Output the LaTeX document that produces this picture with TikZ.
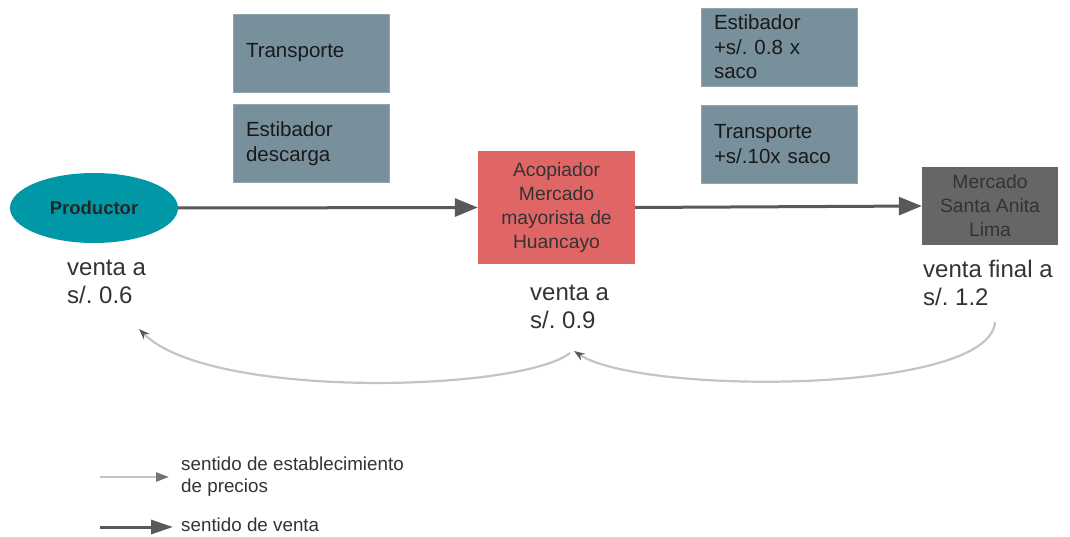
\documentclass[tikz,border=0pt]{standalone}
\usepackage{fontspec}
\setmainfont{Liberation Sans}
\usetikzlibrary{arrows.meta,shapes.geometric}
\definecolor{teal1}{HTML}{0097A7}
\definecolor{redbox}{HTML}{E06666}
\definecolor{darkbox}{HTML}{666666}
\definecolor{graybox}{HTML}{78909C}
\definecolor{saleline}{HTML}{595959}
\definecolor{priceline}{HTML}{C4C4C4}
\definecolor{txt}{HTML}{333333}
\begin{document}
\frenchspacing
\begin{tikzpicture}[x=1pt,y=-1pt,
  costbox/.style={fill=graybox, draw=graybox!80!white, line width=0.6pt, minimum width=156pt, minimum height=78pt,
     text width=130pt, inner xsep=13pt, align=left, text=black!90, font=\fontsize{20.5}{24.5}\selectfont},
  mainbox/.style={draw=none, align=center, font=\fontsize{19.3}{24}\selectfont},
  pricelbl/.style={anchor=north west, align=left, text=txt, inner sep=0pt, font=\fontsize{24}{28}\selectfont},
  sale/.style={draw=saleline, line width=3pt, -{Triangle[length=23pt,width=18pt]}},
  price/.style={draw=priceline, line width=2.2pt, -{Stealth[length=11pt,width=8pt,color=saleline]}},
  legtxt/.style={anchor=west, align=left, text=txt, inner sep=0pt, font=\fontsize{18.8}{22}\selectfont}
]
\useasboundingbox (0,0) rectangle (1070,537);

% main nodes
\node[ellipse, fill=teal1, minimum width=168pt, minimum height=70pt, inner sep=0pt,
      font=\fontsize{18.5}{20}\selectfont\bfseries, text=black!85] (prod) at (94,208) {Productor};
\node[mainbox, fill=redbox, minimum width=157pt, minimum height=113pt, text=black!80] (acop) at (556.5,207.5)
  {Acopiador\\Mercado\\mayorista de\\Huancayo};
\node[mainbox, fill=darkbox, minimum width=136pt, minimum height=78pt, text=txt] (lima) at (990,206)
  {Mercado\\Santa Anita\\Lima};

% cost boxes
\node[costbox] (tr1) at (311,53) {Transporte};
\node[costbox] (es1) at (311,143.5) {Estibador\\descarga};
\node[costbox] (es2) at (779,47) {Estibador\\+s/. 0.8 x\\saco};
\node[costbox] (tr2) at (779,144) {Transporte\\+s/.10x saco};

% sale arrows
\draw[sale] (prod.east) -- (acop.west);
\draw[sale] (acop.east) -- (lima.west);

% price labels
\node[pricelbl] (p1) at (67,260) {venta a\\s/. 0.6};
\node[pricelbl] (p2) at (530,285) {venta a\\s/. 0.9};
\node[pricelbl] (p3) at (923,260) {venta final a\\s/. 1.2};

% price-setting curves
\coordinate (cR) at (995,322);
\coordinate (cM) at (574,351);
\coordinate (cM2) at (570,353);
\coordinate (cL) at (139,329);
\draw[price] (cR) .. controls (990,395) and (640,395) .. (cM);
\draw[price] (cM2) .. controls (520,392) and (210,400) .. (cL);

% legend
\coordinate (l1a) at (100,477);
\coordinate (l1b) at (169,477);
\coordinate (l2a) at (100,527);
\coordinate (l2b) at (173,527);
\draw[draw=priceline, line width=2.2pt, -{Triangle[length=13pt,width=9pt,color=black!55]}] (l1a) -- (l1b);
\draw[draw=saleline, line width=3pt, -{Triangle[length=22pt,width=14pt]}] (l2a) -- (l2b);
\node[legtxt] (lg1) at (181,477) {sentido de establecimiento\\de precios};
\node[legtxt] (lg2) at (181,525) {sentido de venta};
\end{tikzpicture}
\end{document}
